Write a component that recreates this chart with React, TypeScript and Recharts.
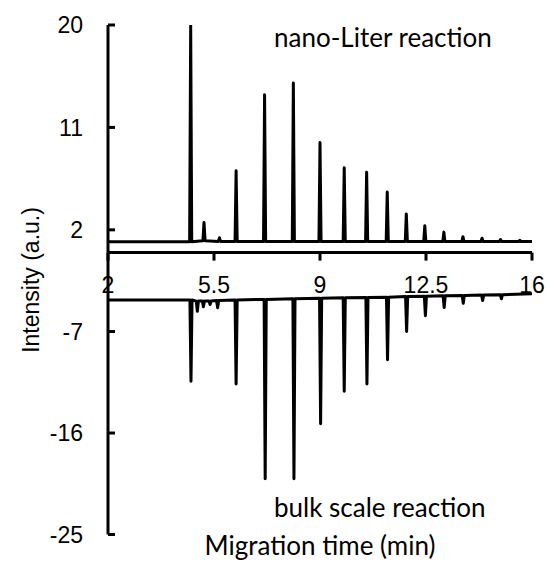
import React from 'react';
import { LineChart, Line, XAxis, YAxis } from 'recharts';

// ---------- data ----------
const xTicks = [2, 5.5, 9, 12.5, 16];
const topYTicks = [2, 11, 20];
const bottomYTicks = [-7, -16, -25];

// nano-Liter reaction (upper trace, peaks upward)
const nanoPeakTimes = [4.73, 5.17, 5.68, 6.23, 7.17, 8.12, 9.0, 9.8, 10.54, 11.22, 11.85, 12.46, 13.09, 13.72, 14.35, 14.96, 15.6];
const nanoPeakHeights = [20, 2.65, 1.3, 7.2, 13.86, 14.9, 9.67, 7.46, 7.07, 5.33, 3.4, 2.35, 1.8, 1.4, 1.26, 1.15, 1.08];
const nanoPeakBase = [0.95, 1.05, 0.98, 0.97, 0.97, 0.97, 0.97, 0.97, 0.97, 0.97, 0.97, 0.97, 0.97, 0.97, 0.97, 0.97, 0.97];
const nanoStart = 0.95;
const nanoEnd = 0.97;

// bulk scale reaction (lower trace, peaks downward)
const bulkPeakTimes = [4.74, 4.95, 5.15, 5.37, 5.62, 6.23, 7.19, 8.14, 9.02, 9.8, 10.55, 11.23, 11.86, 12.48, 13.1, 13.73, 14.37, 14.99];
const bulkPeakDepths = [-11.4, -5.2, -4.8, -4.6, -4.9, -11.65, -20.06, -20.06, -15.17, -12.3, -11.66, -9.5, -7.0, -5.6, -4.87, -4.5, -4.25, -4.1];
const bulkPeakBase = [-4.2, -4.3, -4.3, -4.3, -4.25, -4.2, -4.15, -4.1, -4.05, -4.0, -3.98, -3.95, -3.9, -3.87, -3.83, -3.8, -3.77, -3.73];
const bulkStart = -4.2;
const bulkEnd = -3.65;

// ---------- helpers ----------
const HW = 0.035;
function buildTrace(times: number[], peaks: number[], bases: number[], start: number, end: number) {
  const pts: { t: number; v: number }[] = [{ t: 2, v: start }];
  times.forEach((t, i) => {
    pts.push({ t: t - HW, v: bases[i] });
    pts.push({ t, v: peaks[i] });
    pts.push({ t: t + HW, v: bases[i] });
  });
  pts.push({ t: 16, v: end });
  return pts;
}

const nanoData = buildTrace(nanoPeakTimes, nanoPeakHeights, nanoPeakBase, nanoStart, nanoEnd);
const bulkData = buildTrace(bulkPeakTimes, bulkPeakDepths, bulkPeakBase, bulkStart, bulkEnd);

const W = 548;
const H = 570;
const tickFont = { fill: '#000', fontSize: 23, fontFamily: '"Liberation Sans", Arial, sans-serif' };
const lineStyle = { stroke: '#000', strokeWidth: 3 };
const noteFont = '"Lato", "Open Sans", sans-serif';

export default function App() {
  return (
    <div style={{ position: 'absolute', left: 0, top: 0, width: W, height: H, background: '#fff' }}>
      <div style={{ position: 'absolute', left: 0, top: 0 }}>
        <LineChart width={W} height={H} data={nanoData} margin={{ top: 25, right: 16, bottom: 277.4, left: 48 }}>
          <XAxis
            type="number"
            dataKey="t"
            domain={[2, 16]}
            ticks={xTicks}
            interval={0}
            allowDataOverflow
            height={40}
            tickSize={8}
            tickMargin={16}
            axisLine={lineStyle}
            tickLine={lineStyle}
            tick={tickFont}
          />
          <YAxis
            type="number"
            domain={[0, 20]}
            ticks={topYTicks}
            interval={0}
            allowDataOverflow
            width={60}
            tickSize={-7}
            tickMargin={32}
            axisLine={lineStyle}
            tickLine={lineStyle}
            tick={tickFont}
          />
          <Line
            dataKey="v"
            type="linear"
            stroke="#000"
            strokeWidth={3}
            strokeLinejoin="round"
            dot={false}
            isAnimationActive={false}
          />
        </LineChart>
      </div>
      <div style={{ position: 'absolute', left: 0, top: 0 }}>
        <LineChart width={W} height={H} data={bulkData} margin={{ top: 252.6, right: 16, bottom: 5.5, left: 48 }}>
          <XAxis
            type="number"
            dataKey="t"
            domain={[2, 16]}
            ticks={xTicks}
            allowDataOverflow
            height={30}
            axisLine={false}
            tickLine={false}
            tick={false}
            label={{ value: 'Migration time (min)', position: 'insideBottom', offset: 10, fill: '#000', fontSize: 26, fontFamily: noteFont }}
          />
          <YAxis
            type="number"
            domain={[-25, 0]}
            ticks={bottomYTicks}
            interval={0}
            allowDataOverflow
            width={60}
            tickSize={-7}
            tickMargin={32}
            axisLine={lineStyle}
            tickLine={lineStyle}
            tick={tickFont}
          />
          <Line
            dataKey="v"
            type="linear"
            stroke="#000"
            strokeWidth={3}
            strokeLinejoin="round"
            dot={false}
            isAnimationActive={false}
          />
        </LineChart>
      </div>
      <svg width={W} height={H} style={{ position: 'absolute', left: 0, top: 0, pointerEvents: 'none' }}>
        <text
          x={31}
          y={280}
          transform="rotate(-90 31 280)"
          textAnchor="middle"
          dominantBaseline="central"
          fontSize={23}
          fontFamily='"Liberation Sans", Arial, sans-serif'
          fill="#000"
        >
          Intensity (a.u.)
        </text>
        <text x={274} y={47} fontSize={26} fontFamily={noteFont} fill="#000">
          nano-Liter reaction
        </text>
        <text x={274} y={517} fontSize={26} fontFamily={noteFont} fill="#000">
          bulk scale reaction
        </text>
      </svg>
    </div>
  );
}
